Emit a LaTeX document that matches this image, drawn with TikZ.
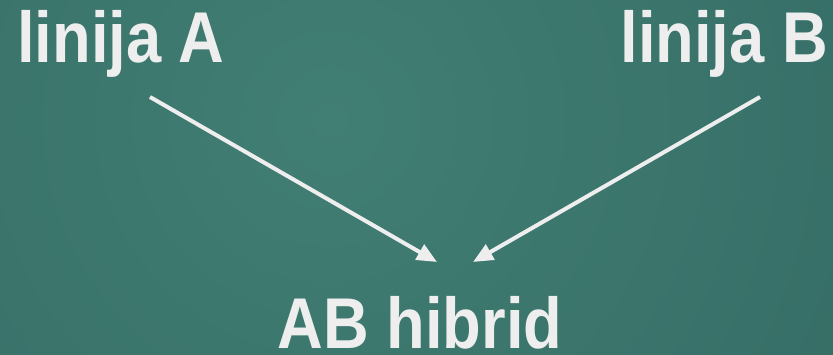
\documentclass[tikz,border=0pt]{standalone}
\usepackage{fontspec}
\setmainfont{Liberation Sans}
\usetikzlibrary{arrows.meta}
\definecolor{bginner}{HTML}{417E73}
\definecolor{bgouter}{HTML}{2B5E5A}
\definecolor{ink}{HTML}{EEEEEE}
% tall bold lettering
\newcommand{\tallword}[1]{\scalebox{1.02}[1.16]{#1}}
\begin{document}
\begin{tikzpicture}[x=1pt,y=1pt,
  label text/.style={inner sep=0pt, text=ink, font=\fontsize{62}{62}\selectfont\bfseries},
  cross/.style={draw=ink, line width=4pt, -{Triangle[length=20pt,width=17pt]}}]
  \useasboundingbox (0,0) rectangle (833,355);
  % teal background, lighter towards the upper middle
  \begin{scope}
    \clip (0,0) rectangle (833,355);
    \shade[inner color=bginner, outer color=bgouter] (330,235) circle (1150);
  \end{scope}
  % parent lines and the hybrid
  \node[label text, anchor=base west] (lineA) at (17,292) {\tallword{linija A}};
  \node[label text, anchor=base east] (lineB) at (828,292) {\tallword{linija B}};
  \node[label text, anchor=base] (hybrid) at (420,6) {\tallword{AB hibrid}};
  % crossing arrows
  \coordinate (fromA) at (150,258);
  \coordinate (toA) at (437,93);
  \coordinate (fromB) at (760,258);
  \coordinate (toB) at (473,93);
  \draw[cross] (fromA) -- (toA);
  \draw[cross] (fromB) -- (toB);
\end{tikzpicture}
\end{document}
